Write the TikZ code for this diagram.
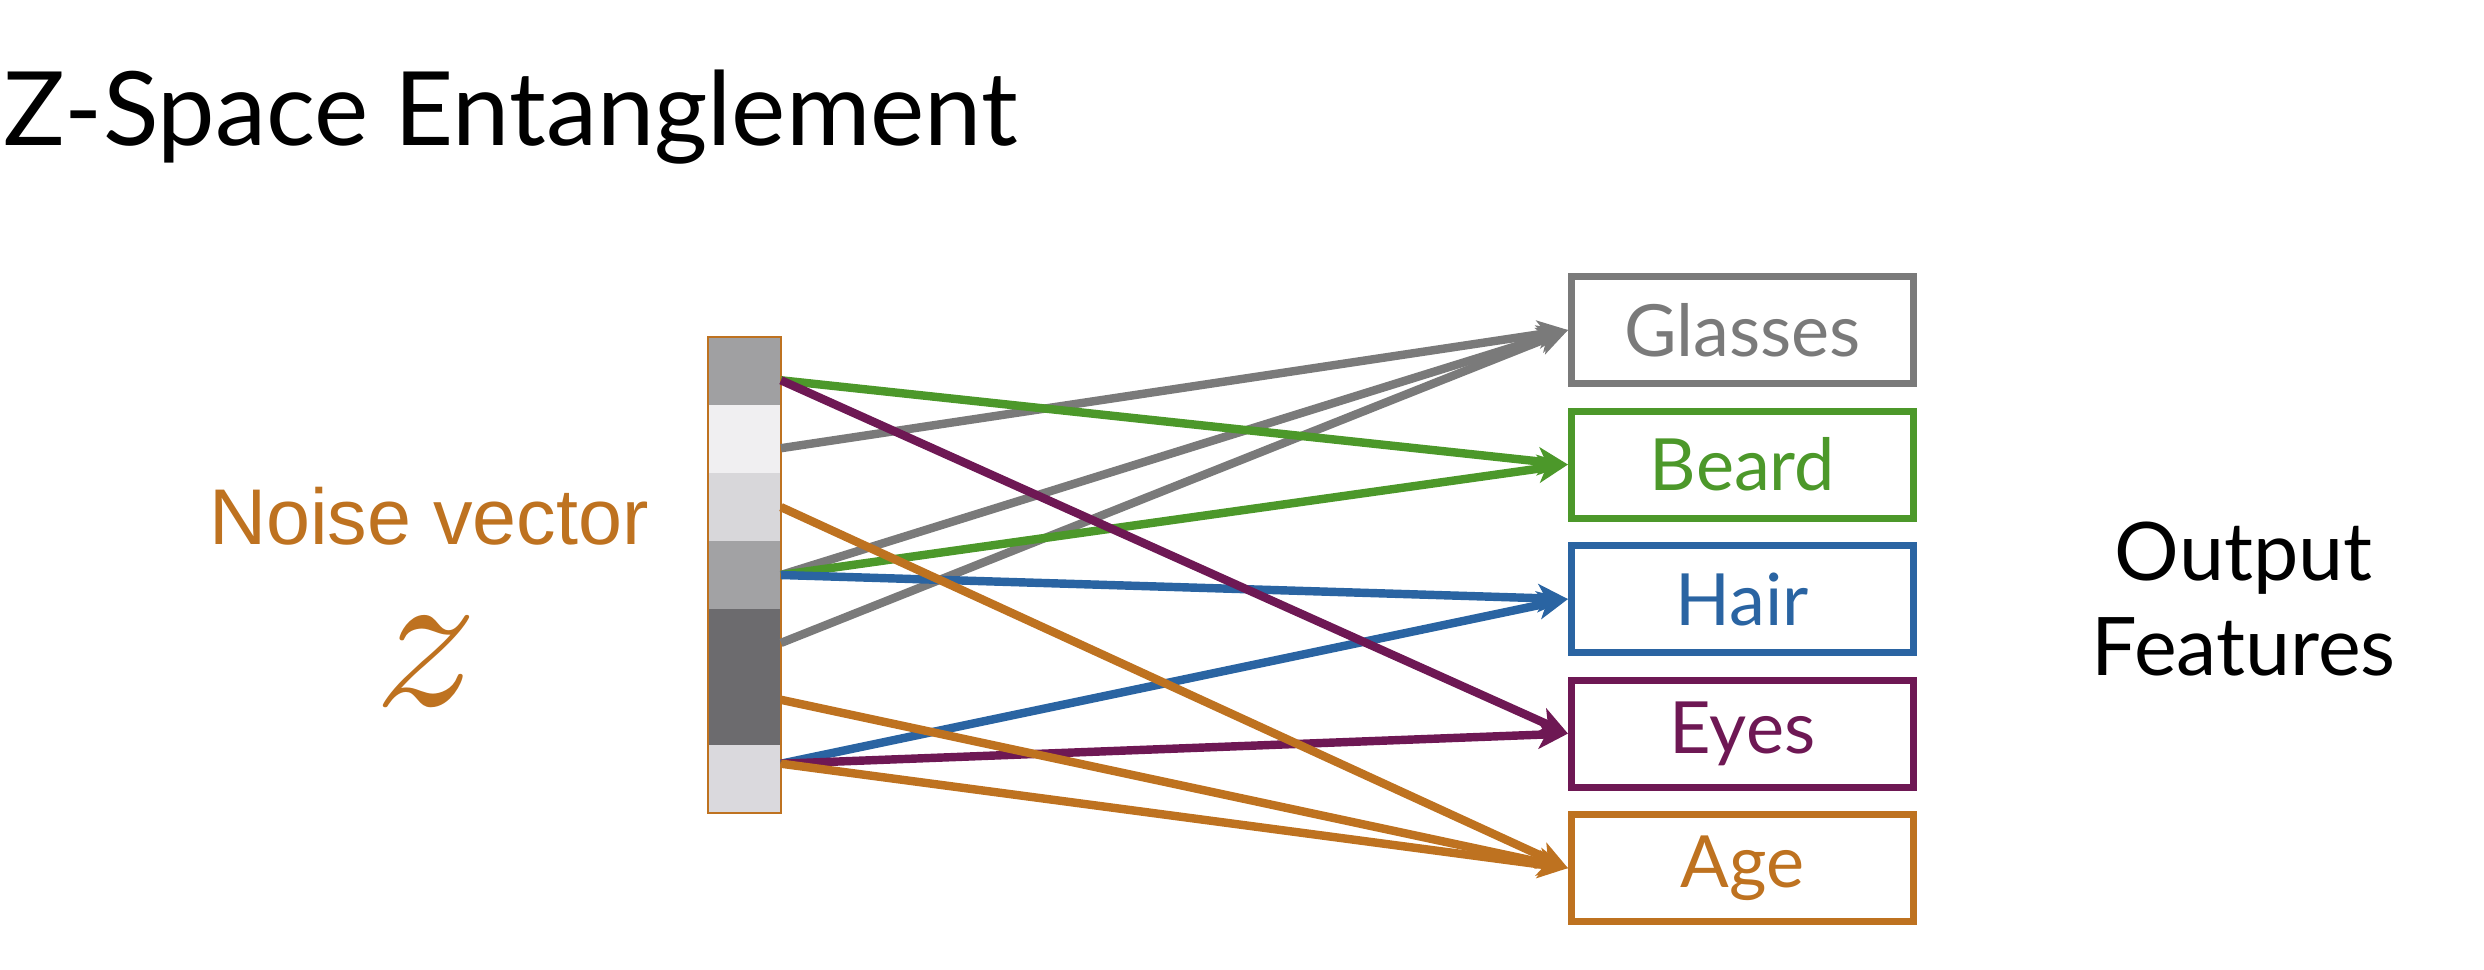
\documentclass[tikz,border=0pt]{standalone}
\usepackage{fontspec}
\setmainfont{Lato}
\newfontfamily\noisefont{Liberation Sans}
\usetikzlibrary{positioning,arrows.meta}

\definecolor{zgray}{RGB}{122,122,122}
\definecolor{zgreen}{RGB}{76,152,42}
\definecolor{zblue}{RGB}{42,100,162}
\definecolor{zpurple}{RGB}{110,24,84}
\definecolor{zorange}{RGB}{190,114,32}

\begin{document}
\begin{tikzpicture}[
  cell/.style={rectangle, minimum width=0.73cm, minimum height=0.679cm, inner sep=0pt, outer sep=0pt},
  feat/.style={rectangle, draw, line width=2pt, minimum width=3.42cm, minimum height=1.07cm, font=\fontsize{20.5}{24}\selectfont},
  link/.style={-{Stealth[length=0.3cm, width=0.28cm, inset=0.08cm]}, line width=2.4pt},
  node distance=0.205cm
]
\useasboundingbox (0,0) rectangle (24.84,-9.70);

\node[anchor=base west, inner sep=0pt, font=\fontsize{29.2}{34}\selectfont] (title) at (0.03,-1.46) {Z-Space Entanglement};

% Noise vector
\node[cell, fill={rgb,255:red,160;green,160;blue,162}] (c1) at (7.445,-3.713) {};
\node[cell, fill={rgb,255:red,240;green,239;blue,241}, below=0pt of c1] (c2) {};
\node[cell, fill={rgb,255:red,216;green,215;blue,218}, below=0pt of c2] (c3) {};
\node[cell, fill={rgb,255:red,162;green,162;blue,164}, below=0pt of c3] (c4) {};
\node[cell, fill={rgb,255:red,108;green,107;blue,110}, below=0pt of c4] (c5) {};
\node[cell, fill={rgb,255:red,108;green,107;blue,110}, below=0pt of c5] (c6) {};
\node[cell, fill={rgb,255:red,218;green,217;blue,221}, below=0pt of c6] (c7) {};
\draw[zorange, line width=0.6pt] (c1.north west) rectangle (c7.south east);

\node[zorange, font=\noisefont\fontsize{22.5}{26}\selectfont] (noise) at (4.29,-5.16) {Noise vector};
\node[zorange] (z) at (4.26,-6.62) {\scalebox{5.8}{$z$}};

% Output features
\node[feat, zgray] (glasses) at (17.425,-3.30) {Glasses};
\node[feat, zgreen, below=of glasses] (beard) {Beard};
\node[feat, zblue, below=of beard] (hair) {Hair};
\node[feat, zpurple, below=of hair] (eyes) {Eyes};
\node[feat, zorange, below=of eyes] (age) {Age};

\node[right=1.74cm of hair, inner sep=0pt, align=center, font=\fontsize{23}{27}\selectfont] (out) {Output\\Features};

% Entangled links
\draw[link, zgray] ([yshift=-0.09cm]c2.east) -- (glasses.west);
\draw[link, zgray] (c4.east) -- (glasses.west);
\draw[link, zgray] (c5.east) -- (glasses.west);
\draw[link, zgreen] ([yshift=-0.09cm]c1.east) -- (beard.west);
\draw[link, zgreen] (c4.east) -- (beard.west);
\draw[link, zblue] (c4.east) -- (hair.west);
\draw[link, zblue] ([yshift=0.15cm]c7.east) -- (hair.west);
\draw[link, zpurple] ([yshift=-0.09cm]c1.east) -- (eyes.west);
\draw[link, zpurple] ([yshift=0.15cm]c7.east) -- (eyes.west);
\draw[link, zorange] (c3.east) -- (age.west);
\draw[link, zorange] ([yshift=0.11cm]c6.east) -- (age.west);
\draw[link, zorange] ([yshift=0.15cm]c7.east) -- (age.west);
\end{tikzpicture}
\end{document}
